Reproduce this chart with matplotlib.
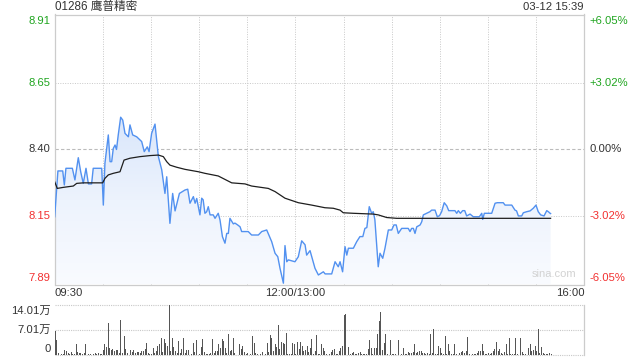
import numpy as np
import matplotlib
matplotlib.use("Agg")
import matplotlib.pyplot as plt
from matplotlib.colors import LinearSegmentedColormap

plt.rcParams['font.family'] = ['Liberation Sans', 'Noto Sans CJK SC', 'DejaVu Sans']

# ---------------- data ----------------
title = "01286 鹰普精密"
stamp = "03-12 15:39"
prev_close = 8.40
price_ticks = [8.91, 8.65, 8.40, 8.15, 7.89]
pct_labels = ["+6.05%", "+3.02%", "0.00%", "-3.02%", "-6.05%"]
x_labels = ["09:30", "12:00/13:00", "16:00"]
vol_ticks = [0, 7.01, 14.01]
vol_tick_labels = ["0", "7.01万", "14.01万"]

# minutes since 09:30 (lunch break removed), price
price_min = [0, 2, 5, 6, 7, 11, 12.6, 14.7, 16.2, 17.8, 19.5, 21, 23, 24, 29.3, 30.3, 31.3, 33.4,
             34.5, 35.5, 36.5, 37.6, 38.5, 39.6, 41.1, 42.4, 43.8, 45.9, 46.9, 48.6, 51.1, 54.2,
             55.8, 57.7, 58.8, 60.4, 62.5, 64.6, 66.7, 68.7, 69.8, 71.8, 73.5, 75, 77.7, 81.2,
             82.9, 84.3, 86.4, 87.5, 88.5, 90.5, 91.6, 92.5, 93.6, 94.7, 95.7, 96.8, 98.8, 99.9,
             101.9, 103, 104.5, 106.1, 107.2, 108.2, 109.2, 111.3, 112.3, 114, 115.5, 116.5,
             120.6, 122.7, 126.9, 129, 132.1, 133, 135.2, 137.3, 139, 140.4, 142.5, 143.5, 144.6,
             145.6, 149.7, 151.8, 153.9, 156, 157, 159.1, 162.2, 164.3, 167.4, 168.5, 172.6,
             174.7, 176.7, 177.8, 179.4, 180.9, 182, 183, 186.1, 188.2, 190.2, 192, 193.3, 194.5,
             196, 197.5, 198.5, 199.5, 201.6, 202.7, 204.4, 205.8, 207.9, 210, 211.4, 212.8,
             214.1, 216.2, 220.3, 221.4, 222.4, 223.5, 224.5, 225.6, 227.7, 228.7, 229.7, 231.8,
             233.8, 234.9, 237, 238.4, 239.8, 241.1, 242.7, 244.3, 245.5, 249.4, 250.5, 251.5,
             252.8, 254.2, 255.5, 256.7, 258.8, 260.8, 264.6, 266.1, 266.7, 267.7, 272.3, 274.4,
             275.8, 279.5, 280.6, 284.8, 286.8, 287.8, 288.9, 291, 292, 294.1, 296.2, 298.2,
             299.9, 301.3, 302.8, 304.9, 306.6, 307.6, 308.7, 309]
price_val = [8.146, 8.319, 8.319, 8.266, 8.329, 8.329, 8.285, 8.369, 8.316, 8.272, 8.329, 8.27,
             8.27, 8.329, 8.329, 8.19, 8.348, 8.455, 8.354, 8.354, 8.404, 8.417, 8.40, 8.455,
             8.522, 8.511, 8.461, 8.448, 8.493, 8.455, 8.448, 8.43, 8.392, 8.41, 8.392, 8.461,
             8.496, 8.373, 8.323, 8.234, 8.297, 8.121, 8.234, 8.168, 8.234, 8.247, 8.25, 8.197,
             8.222, 8.197, 8.215, 8.153, 8.216, 8.21, 8.159, 8.165, 8.184, 8.153, 8.153, 8.14,
             8.159, 8.134, 8.071, 8.046, 8.083, 8.083, 8.14, 8.119, 8.122, 8.115, 8.108, 8.09,
             8.09, 8.077, 8.077, 8.09, 8.096, 8.083, 8.052, 8.008, 7.995, 7.951, 7.895, 8.037,
             7.976, 7.983, 7.976, 7.995, 8.055, 8.04, 8.001, 8.018, 7.951, 7.926, 7.938, 7.93,
             7.93, 7.976, 7.957, 7.976, 7.938, 8.033, 8.001, 8.027, 8.027, 8.052, 8.071, 8.071,
             8.102, 8.105, 8.184, 8.159, 8.165, 8.135, 7.957, 8.008, 7.989, 8.027, 8.096, 8.096,
             8.115, 8.115, 8.083, 8.102, 8.102, 8.09, 8.102, 8.102, 8.083, 8.108, 8.115, 8.127,
             8.153, 8.159, 8.165, 8.171, 8.171, 8.146, 8.150, 8.165, 8.199, 8.187, 8.169, 8.169,
             8.159, 8.169, 8.159, 8.169, 8.169, 8.149, 8.156, 8.146, 8.146, 8.159, 8.136, 8.159,
             8.159, 8.197, 8.199, 8.199, 8.19, 8.19, 8.171, 8.168, 8.149, 8.149, 8.161, 8.165,
             8.168, 8.178, 8.19, 8.165, 8.153, 8.149, 8.169, 8.165, 8.159, 8.158]

avg_min = [0, 1.6, 5.4, 11.6, 13.7, 17.8, 29.9, 31.3, 33.4, 36.5, 40.7, 43.2, 46.9, 53.1, 59.4,
           64.6, 67.7, 69.8, 71.8, 76, 81.2, 89.5, 93.6, 101.9, 110.3, 118.6, 122.7, 133.1,
           137.3, 143.5, 151.8, 160.1, 168.4, 173.6, 177.8, 179.8, 186.1, 198.5, 201.6, 206.9,
           213.1, 309]
avg_val = [8.278, 8.253, 8.257, 8.262, 8.272, 8.274, 8.274, 8.291, 8.304, 8.31, 8.316, 8.36,
           8.367, 8.373, 8.377, 8.379, 8.373, 8.354, 8.341, 8.333, 8.325, 8.316, 8.31, 8.3,
           8.274, 8.27, 8.262, 8.253, 8.241, 8.216, 8.199, 8.19, 8.18, 8.178, 8.171, 8.161,
           8.159, 8.156, 8.153, 8.143, 8.14, 8.14]

# volume per minute (万股), minutes 0..309
volume = [
    6.8, 4.2, 0.6, 3.4, 0.4, 0.4, 1.6, 1.3, 0.6, 0.3,
    0.9, 0.4, 0.3, 3.0, 0.9, 0.5, 0.6, 0.3, 0.5, 3.0,
    0.2, 0.4, 0.4, 0.2, 0.4, 0.6, 0.4, 0.5, 0.4, 0.4,
    1.6, 3.1, 2.2, 9.0, 2.0, 1.6, 1.8, 1.1, 1.6, 1.6,
    0.5, 9.7, 0.6, 5.3, 1.8, 0.5, 1.3, 1.6, 0.9, 1.6,
    0.6, 0.8, 0.8, 0.5, 1.3, 1.3, 1.8, 3.4, 0.5, 0.4,
    0.4, 2.0, 0.5, 1.3, 2.5, 3.0, 4.8, 0.9, 4.4, 3.4,
    2.7, 13.8, 1.3, 4.8, 2.2, 1.1, 0.5, 3.9, 0.6, 1.8,
    4.8, 0.6, 1.6, 1.6, 0.6, 0.4, 3.3, 0.9, 4.2, 1.3,
    0.4, 2.3, 4.5, 0.9, 0.4, 0.4, 0.4, 0.6, 4.5, 0.6,
    1.1, 1.3, 3.1, 2.0, 4.5, 3.9, 2.0, 0.5, 5.9, 1.1,
    1.6, 4.8, 0.6, 0.2, 0.2, 3.1, 1.8, 2.5, 0.9, 0.4,
    0.6, 0.2, 0.3, 5.3, 3.4, 0.6, 0.3, 0.9, 0.4, 0.9,
    0.2, 0.3, 3.4, 0.9, 5.7, 4.8, 1.3, 3.0, 2.3, 8.5,
    1.8, 3.7, 3.4, 3.2, 6.2, 0.4, 0.4, 0.3, 3.4, 3.2,
    0.4, 3.7, 1.7, 3.7, 2.5, 1.3, 1.6, 2.5, 0.9, 2.0,
    4.5, 0.3, 1.3, 5.7, 0.4, 0.3, 3.1, 2.0, 1.1, 0.4,
    0.2, 0.3, 0.9, 1.6, 1.8, 0.4, 0.3, 1.3, 2.0, 2.5,
    11.1, 11.4, 0.2, 2.3, 0.4, 0.6, 0.9, 0.3, 0.4, 0.6,
    0.9, 0.3, 0.4, 0.4, 0.3, 1.8, 4.1, 2.0, 0.4, 2.0,
    2.0, 5.9, 9.6, 12.0, 1.6, 3.4, 5.9, 0.3, 2.0, 4.3,
    0.4, 0.4, 0.4, 0.2, 4.1, 0.2, 0.4, 2.0, 0.3, 0.4,
    0.9, 0.6, 0.6, 0.9, 3.0, 0.6, 0.9, 1.1, 1.3, 0.6,
    0.6, 0.4, 0.6, 0.4, 5.9, 0.6, 7.3, 0.4, 0.4, 2.5,
    2.0, 0.6, 0.3, 5.4, 0.4, 3.1, 1.3, 0.4, 0.4, 3.1,
    0.4, 0.4, 0.6, 0.9, 1.3, 0.6, 1.1, 5.1, 0.4, 0.2,
    0.4, 0.4, 0.3, 0.6, 1.3, 1.1, 3.1, 1.3, 0.4, 0.4,
    0.6, 0.4, 0.6, 1.1, 1.8, 3.7, 1.1, 1.8, 0.6, 0.4,
    0.9, 3.0, 0.4, 4.8, 0.4, 0.4, 0.4, 4.8, 0.4, 0.6,
    4.8, 0.9, 0.4, 0.4, 0.6, 2.0, 3.1, 1.3, 1.6, 2.5,
    1.1, 7.3, 0.6, 2.3, 0.6, 0.4, 0.4, 0.4, 0.6, 0.3,
]

# ---------------- styling ----------------
W, H = 640, 360
fig = plt.figure(figsize=(6.4, 3.6), dpi=100)
GREEN = '#1fa51f'
RED = '#f23030'
GRAY = '#333333'
GRID = '#c8c8c8'
BORDER = '#cccccc'
FS = 8.1

def fx(px):
    return px / W

def fy(py):
    return 1 - py / H

L, R = 54.7, 584.3
ax = fig.add_axes([fx(L), fy(284.5), fx(R - L), fy(14.5) - fy(284.5)])
axv = fig.add_axes([fx(L), fy(355.3), fx(R - L), fy(304.7) - fy(355.3)])

XMAX = 330
ymin, ymax = price_ticks[-1], price_ticks[0]

# gradient fill below price line
poly = ax.fill_between(price_min, price_val, ymin, facecolor='none', edgecolor='none')
cmap = LinearSegmentedColormap.from_list('g', ['#f9fbff', '#edf3fd', '#d9e6fb'])
grad = np.linspace(0, 1, 256).reshape(-1, 1)
im = ax.imshow(grad, extent=[0, XMAX, ymin, max(price_val)], aspect='auto', cmap=cmap,
               origin='lower', zorder=1, interpolation='bilinear')
im.set_clip_path(poly.get_paths()[0], transform=ax.transData)

ax.plot(price_min, price_val, color='#5291f0', lw=1.0, zorder=3)
ax.plot(avg_min, avg_val, color='#1e1e1e', lw=0.9, zorder=4)

ax.set_xlim(0, XMAX)
ax.set_ylim(ymin, ymax)

# grid
for m in range(30, XMAX, 30):
    ax.axvline(m, color=GRID, lw=0.7, ls=(0, (1, 1.5)), zorder=0.5)
for p in price_ticks[1:-1]:
    if p == prev_close:
        ax.axhline(p, color='#bbbbbb', lw=0.8, ls=(0, (3, 2)), zorder=0.5)
    else:
        ax.axhline(p, color=GRID, lw=0.7, ls=(0, (1, 1.5)), zorder=0.5)

ax.set_xticks([])
ax.set_yticks([])
for s in ax.spines.values():
    s.set_color(BORDER)
    s.set_linewidth(0.9)

# left price labels
label_colors = [GREEN, GREEN, GRAY, RED, RED]
for i, (p, c) in enumerate(zip(price_ticks, label_colors)):
    va = 'center'
    off = 0
    if i == 0:
        va, off = 'top', -1.2
    elif i == len(price_ticks) - 1:
        va, off = 'bottom', 1.2
    ax.annotate(f"{p:.2f}", xy=(0, p), xycoords=('axes fraction', 'data'),
                xytext=(-3.0, off), textcoords='offset points', ha='right', va=va,
                color=c, fontsize=FS)
    ax.annotate(pct_labels[i], xy=(1, p), xycoords=('axes fraction', 'data'),
                xytext=(4, off), textcoords='offset points', ha='left', va=va,
                color=c, fontsize=FS)

# x labels
fig.text(fx(L), fy(292.5), x_labels[0], ha='left', va='center', fontsize=FS, color=GRAY)
fig.text(fx(L + (R - L) * 150 / XMAX), fy(292.5), x_labels[1], ha='center', va='center',
         fontsize=FS, color=GRAY)
fig.text(fx(R), fy(292.5), x_labels[2], ha='right', va='center', fontsize=FS, color=GRAY)

# title and time stamp
fig.text(fx(L), fy(7), title, ha='left', va='center', fontsize=FS + 0.3, color=GRAY)
fig.text(fx(R - 1), fy(7), stamp, ha='right', va='center', fontsize=FS, color=GRAY)

# watermark
ax.text(0.985, 0.02, "sina.com", transform=ax.transAxes, ha='right', va='bottom',
        fontsize=8, color='#d2d2d2', zorder=5)

# volume panel
axv.bar(np.arange(len(volume)), volume, width=0.6, align='edge', color='#555555', zorder=3)
axv.set_xlim(0, XMAX)
axv.set_ylim(0, vol_ticks[-1])
axv.axhline(vol_ticks[1], color=GRID, lw=0.8, ls=(0, (1, 1)), zorder=0.5)
axv.axhline(vol_ticks[2], color=GRID, lw=0.8, ls=(0, (1, 1)), zorder=0.5, clip_on=False)
axv.axhline(0, color=GRID, lw=0.8, ls=(0, (1, 1)), zorder=0.5, clip_on=False)
axv.set_xticks([])
axv.set_yticks([])
for k, s in axv.spines.items():
    if k == 'right':
        s.set_color(BORDER)
        s.set_linewidth(0.9)
    else:
        s.set_visible(False)
for v, lab in zip(vol_ticks, vol_tick_labels):
    va, off = 'center', 0
    if v == vol_ticks[-1]:
        va, off = 'top', -1.2
    elif v == 0:
        va, off = 'bottom', 1.2
    axv.annotate(lab, xy=(0, v), xycoords=('axes fraction', 'data'),
                 xytext=(-3.0, off), textcoords='offset points', ha='right', va=va,
                 color=GRAY, fontsize=FS)

fig.savefig("out.png", dpi=100)
